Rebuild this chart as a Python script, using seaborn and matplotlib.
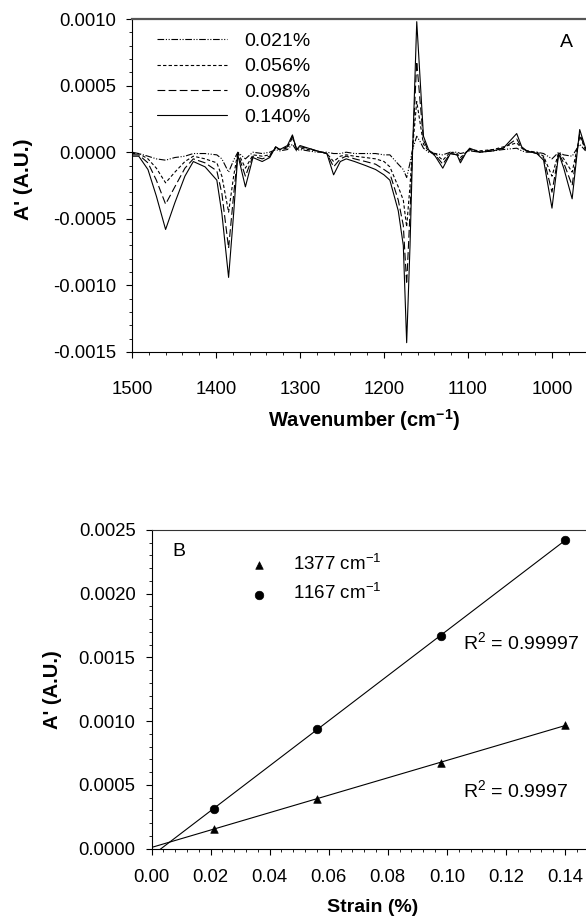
import matplotlib
matplotlib.use("Agg")
import matplotlib.pyplot as plt
from matplotlib.ticker import MultipleLocator, FormatStrFormatter
import numpy as np
import pandas as pd
import seaborn as sns

# --- panel A: difference spectra (values in 1e-4 A.U.) ---
wavenumber = [1500, 1492, 1481, 1471, 1460, 1449, 1437, 1427, 1413, 1399, 1393, 1385,
              1379, 1374, 1365, 1356, 1345, 1336, 1329, 1324, 1315, 1309, 1304, 1300,
              1290, 1280, 1268, 1260, 1252, 1245, 1235, 1222, 1210, 1200, 1193, 1183,
              1177, 1173, 1169, 1166, 1161, 1157, 1153, 1147, 1139, 1130, 1121, 1113,
              1109, 1102, 1098, 1086, 1070, 1058, 1042, 1036, 1030, 1018, 1010, 1000,
              992, 986, 976, 967, 960]

s021 = [0.0, -0.1, -0.3, -0.5, -0.6, -0.4, -0.3, -0.1, -0.1, -0.2, -0.5, -1.5,
        -0.6, 0.0, -0.5, 0.0, -0.1, 0.0, 0.2, 0.1, 0.2, 0.6, 0.1, 0.2,
        0.1, 0.0, 0.0, -0.1, -0.1, 0.0, -0.1, -0.1, -0.1, -0.2, -0.2, -0.9,
        -1.3, -1.9, -0.8, 0.2, 1.2, 0.8, 0.3, 0.0, -0.1, -0.2, 0.0, 0.0,
        -0.1, 0.0, 0.1, 0.0, 0.1, 0.2, 0.3, 0.1, 0.0, 0.0, -0.1, -0.5,
        0.0, -0.2, -0.3, 0.6, 0.1]

s056 = [-0.1, -0.1, -0.5, -1.2, -2.3, -1.5, -0.7, -0.3, -0.5, -0.8, -1.8, -4.5,
        -1.8, 0.0, -1.2, -0.2, -0.3, -0.2, 0.3, 0.2, 0.3, 1.1, 0.2, 0.3,
        0.2, 0.1, -0.1, -0.7, -0.3, -0.2, -0.3, -0.4, -0.5, -0.7, -1.1, -2.6,
        -3.6, -5.6, -2.5, 0.3, 3.8, 2.2, 0.6, 0.1, -0.1, -0.6, 0.0, -0.1,
        -0.4, 0.0, 0.2, 0.1, 0.2, 0.4, 0.7, 0.3, 0.1, 0.0, -0.3, -1.8,
        0.0, -0.5, -1.5, 1.2, 0.2]

s098 = [-0.2, -0.2, -0.8, -2.1, -3.9, -2.6, -1.2, -0.5, -0.8, -1.4, -3.1, -7.2,
        -3.2, -0.1, -1.8, -0.3, -0.5, -0.3, 0.4, 0.2, 0.4, 1.2, 0.2, 0.4,
        0.3, 0.1, -0.1, -1.1, -0.5, -0.3, -0.5, -0.7, -0.9, -1.3, -1.6, -3.6,
        -5.5, -9.9, -4.5, 0.2, 6.8, 3.8, 0.9, 0.1, -0.2, -0.9, -0.1, -0.2,
        -0.6, 0.0, 0.2, 0.0, 0.2, 0.3, 1.0, 0.3, 0.1, -0.1, -0.4, -3.0,
        -0.1, -0.8, -2.5, 1.4, 0.2]

s140 = [-0.3, -0.3, -1.3, -3.3, -5.8, -3.8, -1.8, -0.7, -1.1, -2.1, -4.6, -9.4,
        -4.6, -0.2, -2.6, -0.4, -0.7, -0.4, 0.4, 0.2, 0.5, 1.3, 0.2, 0.5,
        0.3, 0.1, -0.1, -1.7, -0.7, -0.5, -0.7, -1.0, -1.3, -1.7, -2.1, -4.4,
        -7.0, -14.3, -7.0, 0.0, 9.8, 5.5, 1.2, 0.2, -0.3, -1.2, -0.1, -0.2,
        -0.8, 0.0, 0.3, 0.0, 0.1, 0.3, 1.4, 0.4, 0.1, -0.1, -0.6, -4.2,
        -0.1, -1.2, -3.5, 1.7, 0.3]

strain_labels = ["0.021%", "0.056%", "0.098%", "0.140%"]

# --- panel B: band intensity vs strain ---
strain = [0.021, 0.056, 0.098, 0.140]
a1377 = [0.000155, 0.00039, 0.00067, 0.00097]
a1167 = [0.000312, 0.000936, 0.00167, 0.00242]

sns.set_style("ticks")
plt.rcParams["font.family"] = ["Liberation Sans", "DejaVu Sans"]
plt.rcParams["mathtext.default"] = "regular"
plt.rcParams["axes.unicode_minus"] = False
for key in ["text.color", "axes.labelcolor", "xtick.color", "ytick.color"]:
    plt.rcParams[key] = "black"

fig = plt.figure(figsize=(5.86, 9.18), dpi=100)
axA = fig.add_axes([132 / 586, 1 - 352 / 918, 454 / 586, 333 / 918])
axB = fig.add_axes([151.5 / 586, 1 - 848.5 / 918, 434.5 / 586, 318.5 / 918])

styles = [(0, (6, 1.5, 1, 1.5, 1, 1.5)), (0, (3, 2)), (0, (7, 3)), "-"]
for vals, lab, ls in zip([s021, s056, s098, s140], strain_labels, styles):
    df = pd.DataFrame({"w": wavenumber, "a": np.array(vals) * 1e-4})
    sns.lineplot(data=df, x="w", y="a", ax=axA, color="black", lw=0.8,
                 linestyle=ls, label=lab, sort=False)

axA.set_xlim(1500, 959.5)
axA.set_ylim(-0.0015, 0.0010)
axA.xaxis.set_major_locator(MultipleLocator(100))
axA.xaxis.set_minor_locator(MultipleLocator(20))
axA.yaxis.set_major_locator(MultipleLocator(0.0005))
axA.yaxis.set_minor_locator(MultipleLocator(0.0001))
axA.yaxis.set_major_formatter(FormatStrFormatter("%.4f"))
axA.xaxis.set_major_formatter(FormatStrFormatter("%d"))
axA.tick_params(axis="x", which="major", pad=17)
axA.set_xlabel("Wavenumber (cm$^{-1}$)", fontsize=14.5, fontweight="bold")
axA.set_ylabel("A' (A.U.)", fontsize=15, fontweight="bold")
axA.xaxis.set_label_coords(0.511, -0.165)
axA.yaxis.set_label_coords(-0.218, 0.52)
axA.legend(loc="upper left", bbox_to_anchor=(0.055, 0.96), frameon=False,
           fontsize=14, handlelength=3.6, handletextpad=0.9, labelspacing=0.4,
           borderaxespad=0, borderpad=0)
axA.text(0.958, 0.928, "A", transform=axA.transAxes, fontsize=14, ha="center", va="center")

# linear fits drawn from zero strain
fit_x = np.array([0.0, strain[-1]])
for vals in [a1377, a1167]:
    k, b = np.polyfit(strain, vals, 1)
    sns.lineplot(x=fit_x, y=k * fit_x + b, ax=axB, color="black", lw=0.8)

sns.scatterplot(x=strain, y=a1377, ax=axB, marker="^", s=30, color="black",
                edgecolor="black", label="1377 cm$^{-1}$", zorder=3)
sns.scatterplot(x=strain, y=a1167, ax=axB, marker="o", s=38, color="black",
                edgecolor="black", label="1167 cm$^{-1}$", zorder=3)

axB.set_xlim(0, 0.1471)
axB.set_ylim(0, 0.0025)
axB.xaxis.set_major_locator(MultipleLocator(0.02))
axB.xaxis.set_minor_locator(MultipleLocator(0.004))
axB.yaxis.set_major_locator(MultipleLocator(0.0005))
axB.yaxis.set_minor_locator(MultipleLocator(0.0001))
axB.yaxis.set_major_formatter(FormatStrFormatter("%.4f"))
axB.xaxis.set_major_formatter(FormatStrFormatter("%.2f"))
axB.tick_params(axis="x", which="major", pad=10.5)
axB.set_xlabel("Strain (%)", fontsize=14, fontweight="bold")
axB.set_ylabel("A' (A.U.)", fontsize=14.5, fontweight="bold")
axB.xaxis.set_label_coords(0.509, -0.158)
axB.yaxis.set_label_coords(-0.205, 0.5)
axB.legend(loc="upper left", bbox_to_anchor=(0.225, 0.925), frameon=False,
           fontsize=13.5, handlelength=1.0, handletextpad=1.35, labelspacing=0.5,
           borderaxespad=0, borderpad=0)
axB.text(0.064, 0.934, "B", transform=axB.transAxes, fontsize=14, ha="center", va="center")
axB.text(0.717, 0.648, "R$^2$ = 0.99997", transform=axB.transAxes, fontsize=14, va="center")
axB.text(0.717, 0.182, "R$^2$ = 0.9997", transform=axB.transAxes, fontsize=14, va="center")

for ax in [axA, axB]:
    ax.tick_params(which="major", direction="out", length=4, width=0.8, labelsize=13.3,
                   colors="black")
    ax.tick_params(which="minor", direction="out", length=2.5, width=0.6)
    ax.tick_params(axis="y", which="major", pad=7.5)
    ax.spines["right"].set_visible(False)
    for side in ["left", "bottom"]:
        ax.spines[side].set_color("black")
        ax.spines[side].set_linewidth(0.8)
axA.spines["top"].set_color("#555555")
axA.spines["top"].set_linewidth(1.6)
axB.spines["top"].set_color("#333333")
axB.spines["top"].set_linewidth(0.8)

fig.savefig("out.png", dpi=100)
